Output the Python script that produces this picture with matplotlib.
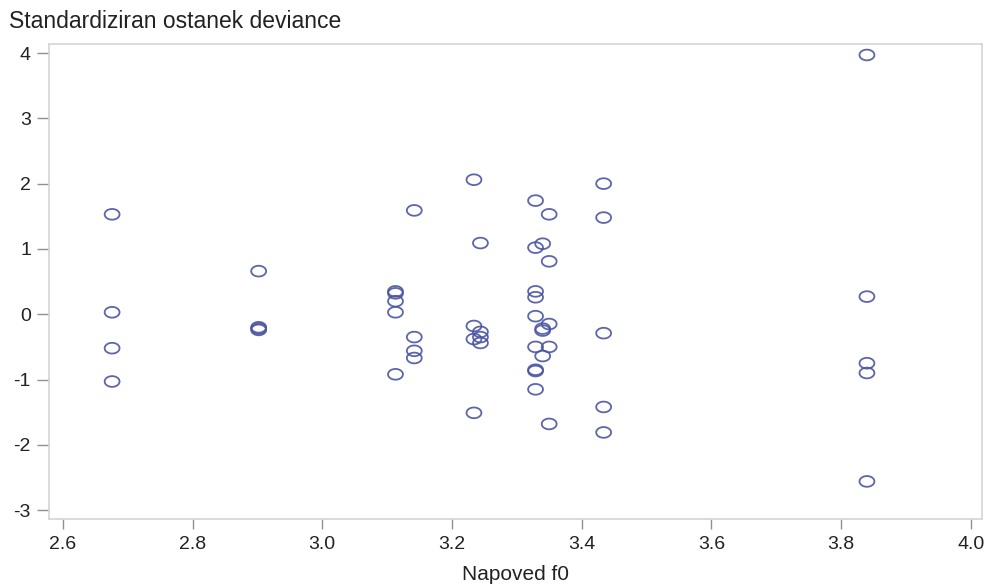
import matplotlib
matplotlib.use("Agg")
import matplotlib.pyplot as plt
import numpy as np
from matplotlib.path import Path

plt.rcParams['font.family'] = ['Liberation Sans', 'DejaVu Sans']

# predicted values (x) and standardized deviance residuals (y)
napoved = [
    2.676, 2.676, 2.676, 2.676,
    2.902, 2.902, 2.902, 2.902,
    3.113, 3.113, 3.113, 3.113, 3.113,
    3.142, 3.142, 3.142, 3.142,
    3.234, 3.234, 3.234, 3.234,
    3.244, 3.244, 3.244, 3.244,
    3.329, 3.329, 3.329, 3.329, 3.329, 3.329, 3.329, 3.329, 3.329,
    3.340, 3.340, 3.340, 3.340,
    3.350, 3.350, 3.350, 3.350, 3.350,
    3.434, 3.434, 3.434, 3.434, 3.434,
    3.840, 3.840, 3.840, 3.840, 3.840,
]
ostanek = [
    1.53, 0.03, -0.52, -1.03,
    0.66, -0.20, -0.22, -0.24,
    0.35, 0.32, 0.20, 0.03, -0.92,
    1.59, -0.35, -0.56, -0.67,
    2.06, -0.18, -0.38, -1.51,
    1.09, -0.27, -0.35, -0.44,
    1.74, 1.02, 0.35, 0.26, -0.03, -0.50, -0.85, -0.87, -1.15,
    1.08, -0.22, -0.25, -0.64,
    1.53, 0.81, -0.15, -0.50, -1.68,
    2.00, 1.48, -0.29, -1.42, -1.81,
    3.97, 0.27, -0.75, -0.90, -2.56,
]
xticks = [2.6, 2.8, 3.0, 3.2, 3.4, 3.6, 3.8, 4.0]
yticks = [-3, -2, -1, 0, 1, 2, 3, 4]

# slightly wide ellipse marker
t = np.linspace(0, 2 * np.pi, 60)
ell = Path(np.column_stack([np.cos(t) * 1.0, np.sin(t) * 0.72]), closed=True)

fig = plt.figure(figsize=(9.88, 5.86), dpi=100)
ax = fig.add_axes([0.0496, 0.1143, 0.9443, 0.8106])
ax.scatter(napoved, ostanek, marker=ell, s=115, facecolors='none',
           edgecolors='#4a55a0', linewidths=1.3, alpha=0.9)

ax.set_xlim(2.5787, 4.0174)
ax.set_ylim(-3.136, 4.138)
ax.set_xticks(xticks)
ax.set_xticklabels([f"{v:.1f}" for v in xticks])
ax.set_yticks(yticks)
ax.set_yticklabels([str(v) for v in yticks])
for s in ax.spines.values():
    s.set_color('#d4d4d4')
    s.set_linewidth(1.2)
ax.tick_params(axis='both', direction='out', width=1, color='#909090',
               labelsize=14, labelcolor='#222222')
ax.tick_params(axis='x', length=7, pad=5)
ax.tick_params(axis='y', length=9, pad=4)

fig.text(0.009, 0.963, "Standardiziran ostanek deviance", fontsize=16.5,
         color='#222222', ha='left', va='center')
ax.set_xlabel("Napoved f0", fontsize=15, color='#222222', labelpad=9)

fig.savefig("out.png", dpi=100)
